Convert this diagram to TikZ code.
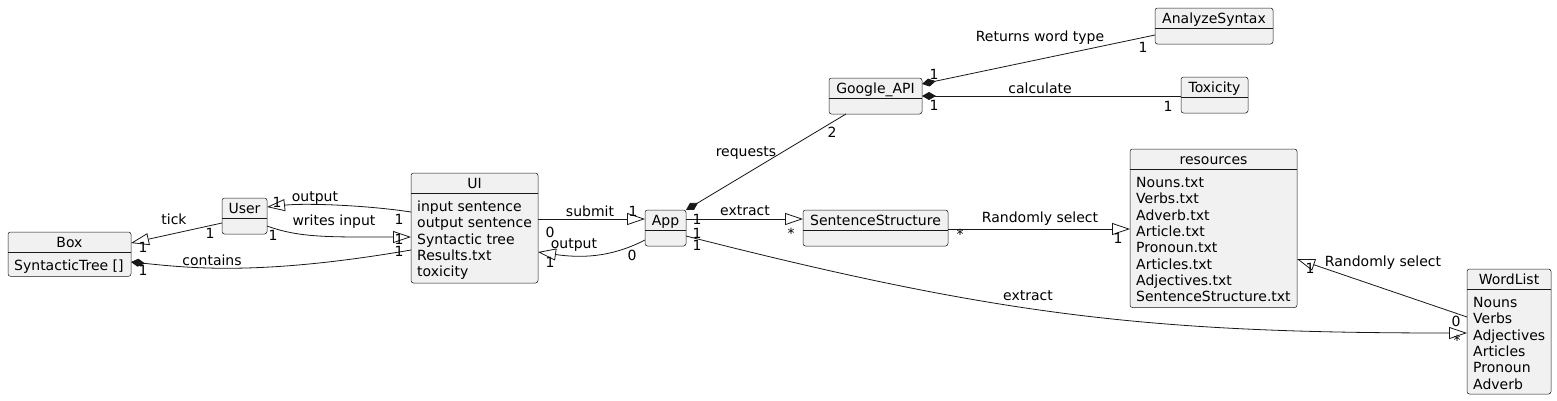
\documentclass[tikz,border=0pt]{standalone}
\usepackage{fontspec}
\setmainfont{DejaVu Sans}
\usetikzlibrary{arrows.meta,calc}
\definecolor{objfill}{HTML}{F1F1F1}
\definecolor{ink}{HTML}{181818}
\tikzset{
  objbox/.style={draw=ink, fill=objfill, line width=0.5pt, rounded corners=2.5pt, inner sep=0pt, outer sep=0pt},
  objline/.style={draw=ink, line width=0.5pt},
  objtitle/.style={inner sep=0pt, anchor=base},
  objattr/.style={inner sep=0pt, anchor=base west},
  conn/.style={draw=ink, line width=0.8pt},
  ext/.style={-{Triangle[open, length=18pt, width=12pt, line width=0.8pt]}},
  comp/.style={-{Diamond[length=14pt, width=8pt, fill=ink]}},
  lbl/.style={inner sep=0pt, anchor=center, text=black},
}
% name, x, y, width, header height, body height, title
\newcommand{\umlempty}[7]{%
  \node[objbox, minimum width=#4, minimum height=#5+#6, anchor=north west] (#1) at (#2,#3) {};
  \draw[objline] ($(#1.north west)+(0,#5)$) -- ($(#1.north east)+(0,#5)$);
  \node[objtitle] (#1-title) at ($(#1.north)+(0,#5/2+5)$) {#7};
}
% same, plus comma separated attribute lines
\newcommand{\umlobject}[8]{%
  \umlempty{#1}{#2}{#3}{#4}{#5}{#6}{#7}%
  \foreach \attrtext [count=\attri] in {#8} {
    \node[objattr] (#1-attr-\attri) at ($(#1.north west)+(6,#5+18.5+\attri*16.3-16.3)$) {\attrtext};
  }
}
\begin{document}
\begin{tikzpicture}[x=1pt, y=-1pt, font=\fontsize{14}{16.3}\selectfont]
\useasboundingbox (0,0) rectangle (1557,400);
\fill[white] (0,0) rectangle (1557,400);

% objects
\umlobject{box}{8}{232}{123}{20}{24.3}{Box}{SyntacticTree []}
\umlempty{user}{222}{198}{45}{20}{16}{User}
\umlobject{ui}{411}{173}{127}{20}{90}{UI}{input sentence,output sentence,Syntactic tree,Results.txt,toxicity}
\umlempty{app}{645}{210}{41}{20}{16}{App}
\umlempty{google}{829}{78}{93}{20}{16}{Google\_API}
\umlempty{analyze}{1155}{8}{118}{20}{16}{AnalyzeSyntax}
\umlempty{toxicity}{1181}{77}{67}{20}{16}{Toxicity}
\umlempty{sentence}{803}{210}{145}{20}{16}{SentenceStructure}
\umlobject{resources}{1130}{149}{167}{20}{138.5}{resources}{Nouns.txt,Verbs.txt,Adverb.txt,Article.txt,Pronoun.txt,Articles.txt,Adjectives.txt,SentenceStructure.txt}
\umlobject{wordlist}{1467}{269}{84}{20}{105}{WordList}{Nouns,Verbs,Adjectives,Articles,Pronoun,Adverb}

% connectors
\draw[conn, ext] ($(user.north west)+(0,25)$) -- ($(box.north east)+(0,11)$);
\draw[conn, ext] ($(ui.north west)+(0,39)$) .. controls (365,205) and (305,203) .. ($(user.north east)+(0,9)$);
\draw[conn, ext] ($(user.north east)+(0,28)$) .. controls (300,238) and (330,237) .. ($(ui.north west)+(0,64)$);
\draw[conn, comp] ($(ui.north west)+(0,77)$) .. controls (260,276) and (190,268) .. ($(box.north east)+(0,30)$);
\draw[conn, ext] ($(ui.north east)+(0,46)$) -- ($(app.north west)+(0,9)$);
\draw[conn, ext] ($(app.north west)+(0,30)$) .. controls (610,258) and (580,258) .. ($(ui.north east)+(0,79)$);
\draw[conn, comp] ($(google.south west)+(17,0)$) -- (app.north east);
\draw[conn, ext] ($(app.north east)+(0,9)$) -- ($(sentence.north west)+(0,9)$);
\draw[conn, ext] ($(app.north east)+(0,26)$) .. controls (1000,316) and (1150,333) .. ($(wordlist.north west)+(0,64)$);
\draw[conn, comp] ($(analyze.north west)+(0,27)$) -- ($(google.north east)+(0,6)$);
\draw[conn, comp] ($(toxicity.north west)+(0,19)$) -- ($(google.north east)+(0,18)$);
\draw[conn, ext] ($(sentence.north east)+(0,19)$) -- ($(resources.north west)+(0,80)$);
\draw[conn, ext] ($(wordlist.north west)+(0,48)$) -- ($(resources.north east)+(0,110)$);

% edge labels
\node[lbl] (l-tick) at (174,219) {tick};
\node[lbl] (l-out1) at (315,198) {output};
\node[lbl] (l-writes) at (334,222) {writes input};
\node[lbl] (l-contains) at (212,260) {contains};
\node[lbl] (l-submit) at (590,211) {submit};
\node[lbl] (l-out2) at (574,245) {output};
\node[lbl] (l-requests) at (746,153) {requests};
\node[lbl] (l-ext1) at (745,211) {extract};
\node[lbl] (l-ext2) at (1028,296) {extract};
\node[lbl] (l-returns) at (1040,38) {Returns word type};
\node[lbl] (l-calc) at (1040,88) {calculate};
\node[lbl] (l-rs1) at (1040,219) {Randomly select};
\node[lbl] (l-rs2) at (1383,263) {Randomly select};

% multiplicities
\node[lbl] (m1) at (210,233) {1};
\node[lbl] (m2) at (143,247) {1};
\node[lbl] (m3) at (277,202) {1};
\node[lbl] (m4) at (399,219) {1};
\node[lbl] (m5) at (273,235) {1};
\node[lbl] (m6) at (399,239) {1};
\node[lbl] (m7) at (143,270) {1};
\node[lbl] (m8) at (399,251) {1};
\node[lbl] (m9) at (550,232) {0};
\node[lbl] (m10) at (633,211) {1};
\node[lbl] (m11) at (632,255) {0};
\node[lbl] (m12) at (550,262) {1};
\node[lbl] (m13) at (832,132) {2};
\node[lbl] (m14) at (697,219) {1};
\node[lbl] (m15) at (697,233) {1};
\node[lbl] (m16) at (697,245) {1};
\node[lbl] (m17) at (791,233) {*};
\node[lbl] (m18) at (1457,340) {*};
\node[lbl] (m19) at (934,74) {1};
\node[lbl] (m20) at (1143,47) {1};
\node[lbl] (m21) at (934,105) {1};
\node[lbl] (m22) at (1168,106) {1};
\node[lbl] (m23) at (960,234) {*};
\node[lbl] (m24) at (1118,238) {1};
\node[lbl] (m25) at (1310,268) {1};
\node[lbl] (m26) at (1456,321) {0};
\end{tikzpicture}
\end{document}
